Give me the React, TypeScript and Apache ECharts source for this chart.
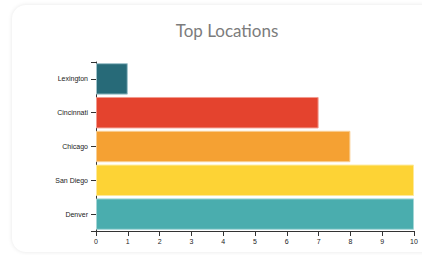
import React, { useEffect, useRef } from "react";
import * as echarts from "echarts";

const categories = ["Lexington", "Cincinnati", "Chicago", "San Diego", "Denver"];
const values = [1, 7, 8, 10, 10];
const colors = ["#276a78", "#e4432e", "#f5a133", "#fdd335", "#4aadae"];
const borderColors = ["#9fc3cb", "#f29a8e", "#f9cf94", "#fee99a", "#a4d6d6"];
const xTicks = { min: 0, max: 10, interval: 1 };

export default function App() {
  const ref = useRef<HTMLDivElement>(null);
  useEffect(() => {
    const chart = echarts.init(ref.current!, null, { renderer: "svg" });
    const axisColor = "#333";
    chart.setOption({
      animation: false,
      title: {
        text: "Top Locations",
        left: 222,
        top: 17,
        textAlign: "center",
        textStyle: { fontFamily: "Lato", fontWeight: "normal", fontSize: 17, color: "#7c7c7c" },
      },
      grid: { left: 96, right: 8, top: 62, bottom: 24, containLabel: false },
      xAxis: {
        type: "value",
        min: xTicks.min,
        max: xTicks.max,
        interval: xTicks.interval,
        splitLine: { show: false },
        axisLine: { show: true, lineStyle: { color: axisColor, width: 1 } },
        axisTick: { show: true, length: 5, lineStyle: { color: axisColor } },
        axisLabel: { fontSize: 7, fontFamily: "Liberation Sans", color: "#222", margin: 7 },
      },
      yAxis: [
        {
          type: "category",
          data: categories,
          inverse: true,
          axisLine: { show: true, lineStyle: { color: axisColor } },
          axisTick: { show: true, alignWithLabel: true, length: 5, lineStyle: { color: axisColor } },
          axisLabel: { fontSize: 7, fontFamily: "Liberation Sans", color: "#222", margin: 8 },
        },
        {
          type: "value",
          min: 0,
          max: 1,
          interval: 1,
          position: "left",
          axisLine: { show: false },
          axisTick: { show: true, length: 5, lineStyle: { color: axisColor } },
          axisLabel: { show: false },
          splitLine: { show: false },
        },
      ],
      series: [
        {
          type: "bar",
          yAxisIndex: 0,
          barCategoryGap: "7%",
          data: values.map((v, i) => ({
            value: v,
            itemStyle: { color: colors[i], borderColor: borderColors[i], borderWidth: 1 },
          })),
        },
      ],
    });
    return () => chart.dispose();
  }, []);
  return (
    <div style={{ position: "fixed", left: 0, top: 0, width: 422, height: 255, background: "#fff", overflow: "hidden" }}>
      <div
        style={{
          position: "absolute",
          left: 12,
          top: 5,
          width: 440,
          height: 247,
          borderRadius: 14,
          background: "#fff",
          boxShadow: "0 0 4px rgba(0,0,0,0.10)",
        }}
      />
      <div ref={ref} style={{ position: "absolute", left: 0, top: 0, width: 422, height: 255 }} />
    </div>
  );
}
